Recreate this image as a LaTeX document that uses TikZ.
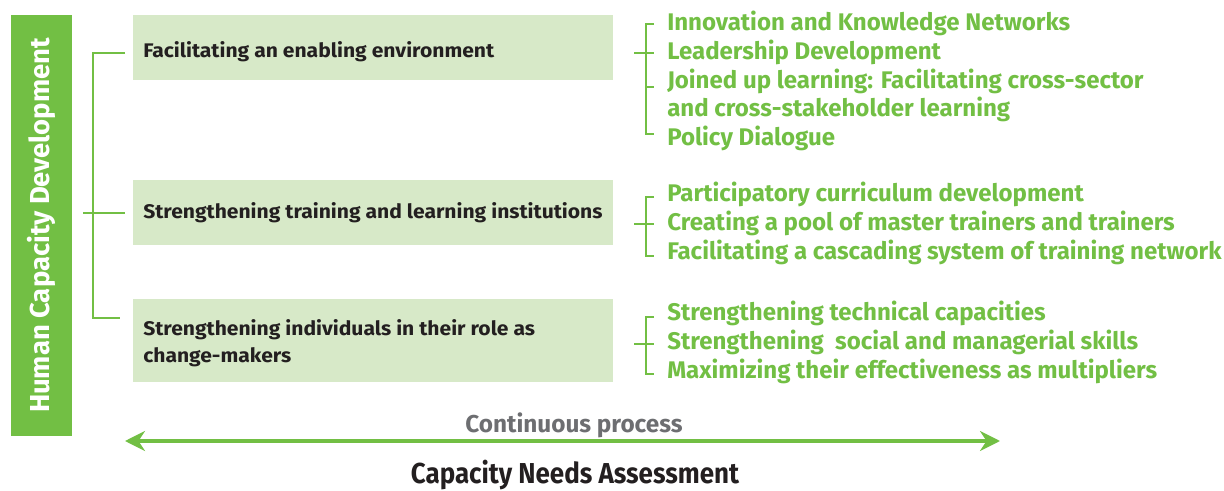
\documentclass[tikz,border=0pt]{standalone}
\usepackage{fontspec}
\setmainfont{Fira Sans}
\usetikzlibrary{arrows.meta, positioning}
\definecolor{hcdGreen}{HTML}{72BF44}
\definecolor{hcdPale}{HTML}{D7E9C8}
\definecolor{hcdDark}{HTML}{231F20}
\definecolor{hcdGray}{HTML}{6D6E71}
\tikzset{
  sideBar/.style={rectangle, fill=hcdGreen, text=white, inner sep=0pt,
                  minimum width=1.525cm, minimum height=10.525cm},
  areaBox/.style={rectangle, fill=hcdPale, anchor=north west, inner sep=0pt,
                  minimum width=12cm, minimum height=1.625cm},
  areaText/.style={anchor=base west, align=left, text=hcdDark, inner sep=0pt,
                   font=\fontsize{14}{19.9}\selectfont\bfseries\addfontfeatures{FakeStretch=1.07}},
  itemText/.style={anchor=base west, text=hcdGreen, inner sep=0pt,
                   font=\fontsize{17.1}{20}\selectfont\bfseries},
  bracketLine/.style={hcdGreen, line width=1.4pt},
  cycleArrow/.style={{Stealth[length=5mm, width=5mm]}-{Stealth[length=5mm, width=5mm]},
                     hcdGreen, line width=2.2pt},
}
\begin{document}
\begin{tikzpicture}[x=0.025cm, y=-0.025cm]
  \useasboundingbox (0,0) rectangle (1224,491);
  % side bar
  \node[sideBar] (hcd) at (41.5,225.5) {};
  \node[rotate=90, text=white, font=\fontsize{19.5}{22}\selectfont\bfseries] (hcdLabel)
    at (hcd.center) {Human Capacity Development};
  % the three areas
  \node[areaBox] (box1) at (133,15) {};
  \node[areaBox] (box2) at (133,180) {};
  \node[areaBox, minimum height=2.075cm] (box3) at (133,299) {};
  \node[areaText] (area1) at (143,58) {Facilitating an enabling environment};
  \node[areaText] (area2) at (143,219) {Strengthening training and learning institutions};
  \node[areaText] (area3) at (143,363) {Strengthening individuals in their role as\\change-makers};
  % left bracket
  \coordinate (lTop) at (125,53);
  \coordinate (lMid) at (125,213);
  \coordinate (lBot) at (120,318);
  \coordinate (lStub) at (83,213);
  \draw[bracketLine] (lTop) -- (93,53) -- (93,318) -- (lBot);
  \draw[bracketLine] (lStub) -- (lMid);
  % activities
  \foreach \i/\y/\w in {1/31/Innovation and Knowledge Networks,
                        2/60/Leadership Development,
                        3/89/Joined up learning: Facilitating cross-sector,
                        4/117/and cross-stakeholder learning,
                        5/146/Policy Dialogue} {
    \node[itemText] (a\i) at (667,\y) {\w};
  }
  \foreach \i/\y/\w in {1/202/Participatory curriculum development,
                        2/231/Creating a pool of master trainers and trainers,
                        3/260/Facilitating a cascading system of training network} {
    \node[itemText] (b\i) at (667,\y) {\w};
  }
  \foreach \i/\y/\w in {1/321/Strengthening technical capacities,
                        2/350/Strengthening~ social and managerial skills,
                        3/379/Maximizing their effectiveness as multipliers} {
    \node[itemText] (c\i) at (667,\y) {\w};
  }
  % right brackets
  \foreach \t/\m/\b in {24/53/134, 197/224/256, 317/344/374} {
    \draw[bracketLine] (654,\t) -- (646,\t) -- (646,\b) -- (654,\b);
    \draw[bracketLine] (634,\m) -- (654,\m);
  }
  \draw[bracketLine] (646,87) -- (654,87);
  % continuous process
  \coordinate (cpLeft) at (125,441);
  \coordinate (cpRight) at (1000,441);
  \draw[cycleArrow] (cpLeft) -- (cpRight);
  \node[anchor=base, text=hcdGray, font=\fontsize{17.3}{20}\selectfont\bfseries] (cpLabel)
    at (574,432) {Continuous process};
  \node[anchor=base, text=hcdDark,
        font=\fontsize{20.5}{24}\selectfont\bfseries\addfontfeatures{FakeStretch=0.9}] (cnaLabel)
    at (575,483) {Capacity Needs Assessment};
\end{tikzpicture}
\end{document}
